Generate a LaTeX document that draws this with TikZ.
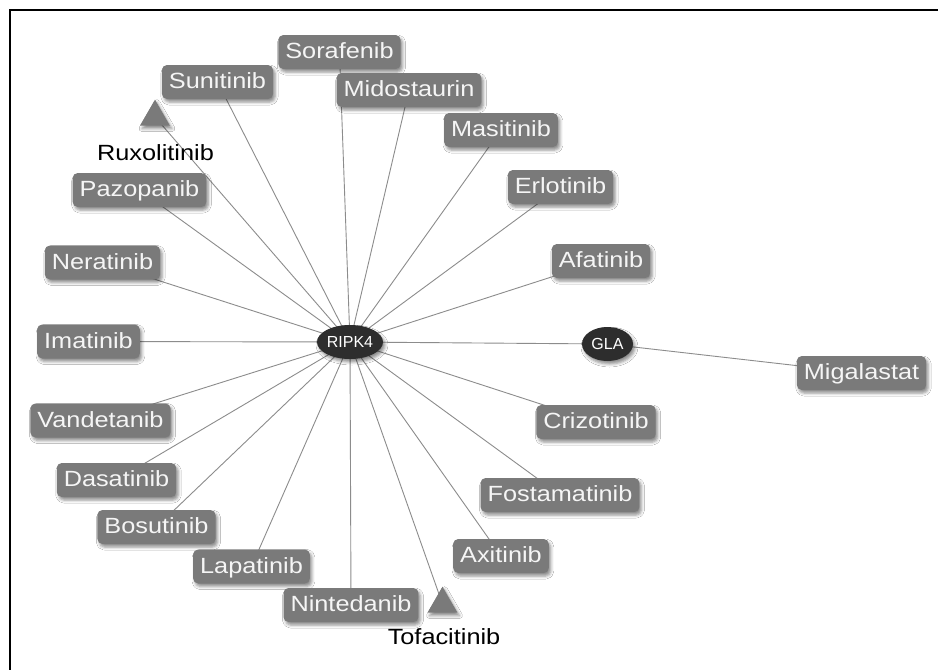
\documentclass[tikz,border=0pt]{standalone}
\usepackage{fontspec}
\setmainfont{Liberation Sans}
\newfontfamily\widesans[FakeStretch=1.15]{Liberation Sans}
\usetikzlibrary{shapes.geometric,shadows.blur,backgrounds}

\definecolor{drugfill}{RGB}{122,122,122}
\definecolor{genefill}{RGB}{45,45,45}
\definecolor{linkgray}{RGB}{140,140,140}
\definecolor{drugtext}{RGB}{245,245,245}

\tikzset{
  softshadow/.style={blur shadow={shadow xshift=2pt, shadow yshift=-3pt,
      shadow blur radius=3pt, shadow opacity=45}},
  drug/.style={fill=drugfill, rounded corners=5pt, text=drugtext,
      font=\widesans\fontsize{22}{24}\selectfont,
      text height=15.75pt, text depth=2pt,
      inner xsep=7pt, minimum height=34pt, softshadow},
  gene/.style={ellipse, fill=genefill, text=white,
      font=\fontsize{16}{18}\selectfont, inner sep=0pt,
      minimum height=34pt, softshadow},
  tri/.style={regular polygon, regular polygon sides=3, minimum size=34.6pt,
      inner sep=0pt, fill=drugfill, softshadow},
  lbl/.style={font=\widesans\fontsize{22}{24}\selectfont, text=black, inner sep=0pt},
  link/.style={draw=linkgray, line width=0.9pt},
}

\begin{document}
\begin{tikzpicture}[x=1pt, y=-1pt]
  \useasboundingbox (0,0) rectangle (938,670);

  % genes
  \node[gene, minimum width=66pt] (ripk4) at (350,342) {RIPK4};
  \node[gene, minimum width=51pt] (gla) at (607.5,344) {GLA};

  % drugs around RIPK4
  \node[drug] (sorafenib)   at (339.5,52)   {Sorafenib};
  \node[drug] (sunitinib)   at (217.5,82)   {Sunitinib};
  \node[drug] (midostaurin) at (409,90)     {Midostaurin};
  \node[drug] (masitinib)   at (501,130)    {Masitinib};
  \node[drug] (erlotinib)   at (560.5,187)  {Erlotinib};
  \node[drug] (afatinib)    at (601,261)    {Afatinib};
  \node[drug] (pazopanib)   at (139.5,190)  {Pazopanib};
  \node[drug] (neratinib)   at (102.5,262.5){Neratinib};
  \node[drug] (imatinib)    at (88.5,341.5) {Imatinib};
  \node[drug] (vandetanib)  at (100.5,420.5){Vandetanib};
  \node[drug] (dasatinib)   at (116.5,480)  {Dasatinib};
  \node[drug] (bosutinib)   at (156.5,527)  {Bosutinib};
  \node[drug] (lapatinib)   at (251.5,566.5){Lapatinib};
  \node[drug] (nintedanib)  at (351,605)    {Nintedanib};
  \node[drug] (axitinib)    at (501,556)    {Axitinib};
  \node[drug] (fostamatinib)at (560,495)    {Fostamatinib};
  \node[drug] (crizotinib)  at (596,422)    {Crizotinib};
  \node[drug] (migalastat)  at (861.5,373)  {Migalastat};

  % triangle-marked drugs
  \node[tri] (ruxo) at (155,117) {};
  \node[lbl] (ruxolabel) at (155.5,152.5) {Ruxolitinib};
  \node[tri] (tofa) at (442.5,604) {};
  \node[lbl] (tofalabel) at (444,637) {Tofacitinib};

  % page and connectors, beneath the nodes
  \begin{scope}[on background layer]
    \fill[white] (0,0) rectangle (938,670);
    \foreach \d in {sorafenib,sunitinib,midostaurin,masitinib,erlotinib,
        afatinib,pazopanib,neratinib,imatinib,vandetanib,dasatinib,bosutinib,
        lapatinib,nintedanib,axitinib,fostamatinib,crizotinib,ruxo,tofa,gla}
      \draw[link] (ripk4.center) -- (\d.center);
    \draw[link] (gla.center) -- (migalastat.center);
  \end{scope}

  % frame
  \draw[line width=2pt, line cap=rect] (9.5,670) -- (9.5,9.5) -- (938,9.5);
\end{tikzpicture}
\end{document}
